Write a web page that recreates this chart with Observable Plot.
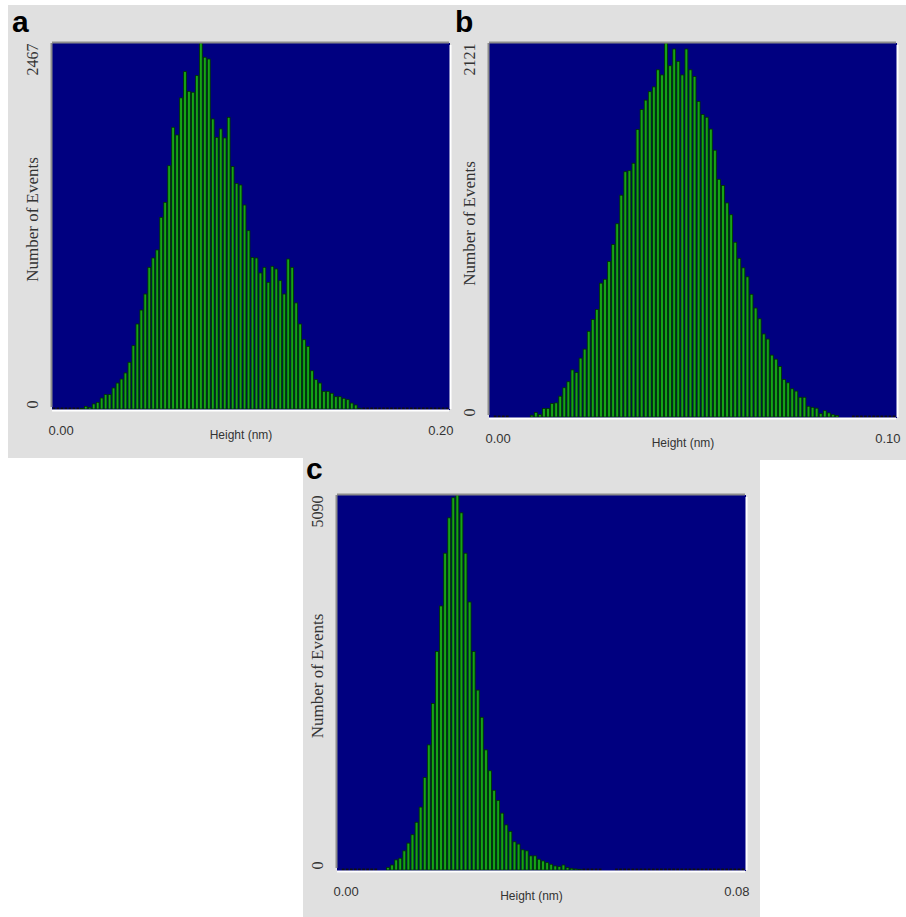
<!DOCTYPE html>
<html><head><meta charset="utf-8">
<script src="https://cdn.jsdelivr.net/npm/d3@7"></script>
<script src="https://cdn.jsdelivr.net/npm/@observablehq/plot@0.6"></script>
<style>
body{margin:0;background:#fff;}
#root{position:relative;width:906px;height:917px;overflow:hidden;background:#fff;}
.panel{position:absolute;}
.tag{position:absolute;font:bold 30px "Liberation Sans",Arial,sans-serif;line-height:30px;color:#000;}
</style></head><body><div id="root"></div>
<script>
// ---- data ----
const panelTags = ["a", "b", "c"];
const xMax = [0.20, 0.10, 0.08];      // x axis end (nm)
const yMax = [2467, 2121, 5090];      // y axis end (events)
const xLabel = "Height (nm)";
const yLabel = "Number of Events";
// 100 bins per histogram; null = nothing drawn, 0 = empty bin (dash at baseline)
const countsA = [
  0,0,0,0,0,0,0,5,18,11,
  34,45,74,97,97,142,175,202,243,315,
  427,573,667,775,955,1018,1072,1292,1393,1640,
  1899,1847,2097,2274,2141,2135,2247,2467,2371,2359,
  1955,1831,1888,1827,1966,1634,1521,1510,1375,1202,
  1022,1018,917,955,854,962,944,865,775,1011,
  955,715,573,467,422,258,198,175,119,119,
  106,83,83,72,63,40,27,5,0,0,
  0,0,0,0,0,0,0,0,0,0,
  0,0,0,0,0,0,0,0,0,0
];
const countsB = [
  null,0,0,0,0,null,null,null,null,null,
  10,25,13,48,48,76,80,118,166,200,
  267,252,334,385,486,553,610,759,781,882,
  978,1096,1258,1391,1397,1439,1630,1744,1797,1845,
  1872,1969,1940,2121,1992,2087,2017,1940,2087,1969,
  1931,1790,1715,1700,1633,1513,1348,1313,1214,1147,
  991,900,846,795,696,618,557,471,442,351,
  328,286,213,194,160,147,112,112,61,55,
  50,19,36,23,13,8,null,null,null,0,
  0,0,0,0,0,0,0,0,0,0
];
const countsC = [
  null,0,0,0,0,0,0,0,0,0,
  null,null,32,68,137,160,260,365,479,648,
  854,1255,1698,2260,2967,3584,4300,4780,5053,5090,
  4848,4300,3638,2967,2442,2073,1630,1347,1082,945,
  772,612,525,383,352,274,260,192,192,146,
  123,100,78,55,46,68,32,23,14,9,
  0,0,0,0,0,null,null,null,0,0,
  0,0,0,0,0,0,0,0,0,0,
  0,0,0,0,0,0,0,0,0,0,
  0,0,0,0,0,0,0,0,0,0
];
const allCounts = [countsA, countsB, countsC];

// ---- layout & style ----
const layout = [
  {left: 8,   top: 5,   width: 447, height: 453, ml: 44, mr: 6,  mt: 38, mb: 49, tagLeft: 12,  tagTop: 6.6},
  {left: 455, top: 5,   width: 451, height: 455, ml: 34, mr: 10, mt: 38, mb: 43, tagLeft: 455, tagTop: 6.6},
  {left: 303, top: 457, width: 457, height: 460, ml: 34, mr: 15, mt: 38, mb: 47, tagLeft: 306, tagTop: 453.6}
];
const GRAY = "#e0e0e0", NAVY = "#000080", GREEN = "#16a316", EDGE = "#003000";
const SERIF = "'Liberation Serif','Times New Roman',serif";
const SANS = "'Liberation Sans',Arial,sans-serif";
const fmt = d3.format(".2f");

const root = document.getElementById("root");

allCounts.forEach((counts, k) => {
  const L = layout[k];
  const w = xMax[k] / counts.length;
  const bins = counts.map((c, i) => ({x1: i * w, x2: (i + 1) * w, count: c}));
  const bars = bins.filter(d => d.count != null && d.count > 0);
  const empty = bins.filter(d => d.count === 0);

  const svg = Plot.plot({
    width: L.width, height: L.height,
    marginLeft: L.ml, marginRight: L.mr, marginTop: L.mt, marginBottom: L.mb,
    x: {domain: [0, xMax[k]], axis: null},
    y: {domain: [0, yMax[k]], axis: null},
    style: {background: GRAY, overflow: "visible"},
    marks: [
      Plot.frame({fill: NAVY, stroke: NAVY}),
      Plot.rect(bars, {x1: "x1", x2: "x2", y1: 0, y2: "count", fill: GREEN, stroke: EDGE, strokeWidth: 0.8, insetLeft: 0.6, insetRight: 0.6}),
      Plot.ruleY(empty, {y: "count", x1: "x1", x2: "x2", stroke: "#101010", strokeWidth: 2, insetLeft: 0.7, insetRight: 0.7, dy: -1}),
      // 3D border
      Plot.ruleY([yMax[k]], {stroke: "#8c8c8c", strokeWidth: 2, dy: -1}),
      Plot.ruleX([0], {stroke: "#8c8c8c", strokeWidth: 2, dx: -1, y1: 0, y2: yMax[k], insetTop: -2}),
      Plot.ruleY([0], {stroke: "#ffffff", strokeWidth: 2, dy: 1}),
      Plot.ruleX([xMax[k]], {stroke: "#ffffff", strokeWidth: 2, dx: 1, y1: 0, y2: yMax[k], insetBottom: -2}),
      // y ticks
      Plot.text([0], {y: d => d, text: d => String(d), frameAnchor: "left", dx: -20, dy: -1, rotate: -90, textAnchor: "start", lineAnchor: "middle", fontFamily: SERIF, fontSize: 16, fill: "#333"}),
      Plot.text([yMax[k]], {y: d => d, text: d => String(d), frameAnchor: "left", dx: -20, rotate: -90, textAnchor: "end", lineAnchor: "middle", fontFamily: SERIF, fontSize: 16, fill: "#333"}),
      Plot.text([yLabel], {text: d => d, frameAnchor: "left", dx: -20, dy: -7, rotate: -90, textAnchor: "middle", lineAnchor: "middle", fontFamily: SERIF, fontSize: 17, fill: "#333"}),
      // x ticks
      Plot.text([0], {x: d => d, text: d => fmt(d), frameAnchor: "bottom", dy: 21, dx: -4, textAnchor: "start", lineAnchor: "middle", fontFamily: SANS, fontSize: 13, fill: "#333"}),
      Plot.text([xMax[k]], {x: d => d, text: d => fmt(d), frameAnchor: "bottom", dy: 21, dx: 4, textAnchor: "end", lineAnchor: "middle", fontFamily: SANS, fontSize: 13, fill: "#333"}),
      Plot.text([xLabel], {text: d => d, frameAnchor: "bottom", dy: 26, dx: -10, textAnchor: "middle", lineAnchor: "middle", fontFamily: SANS, fontSize: 12, fill: "#333"})
    ]
  });
  const wrap = document.createElement("div");
  wrap.className = "panel";
  wrap.style.left = L.left + "px";
  wrap.style.top = L.top + "px";
  wrap.appendChild(svg);
  root.appendChild(wrap);

  const tag = document.createElement("div");
  tag.className = "tag";
  tag.style.left = L.tagLeft + "px";
  tag.style.top = L.tagTop + "px";
  tag.textContent = panelTags[k];
  root.appendChild(tag);
});
</script>
</body></html>
